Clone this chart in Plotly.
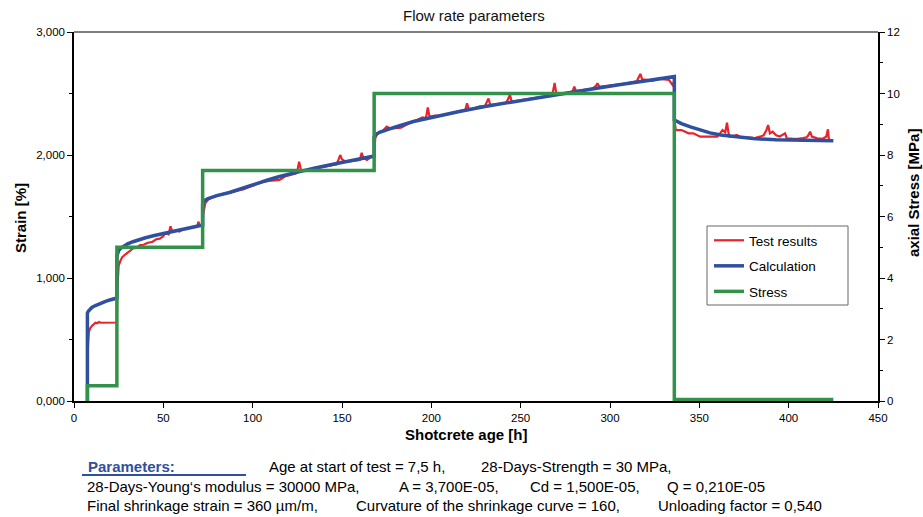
import plotly.graph_objects as go

# ---------------- data ----------------
stress_t = [7.5, 7.5, 24, 24, 72, 72, 168, 168, 336, 336, 425]
stress_v = [0, 0.5, 0.5, 5, 5, 7.5, 7.5, 10, 10, 0.05, 0.05]

calc_t = [7.5, 7.5, 8, 9, 10, 12, 14, 16, 18, 20, 22, 24,
          24, 24.5, 25, 26, 28, 30, 33, 36, 40, 45, 50, 55, 60, 66, 72,
          72, 72.5, 73, 75, 80, 87, 95, 100, 108, 115, 125, 135, 145, 155, 162, 168,
          168, 169, 171, 175, 180, 190, 200, 215, 230, 245, 260, 275, 290, 305, 320, 336,
          336, 340, 345, 350, 356, 362, 370, 380, 393, 410, 425]
calc_v = [0, 715, 730, 748, 760, 776, 790, 802, 812, 821, 829, 837,
          1180, 1205, 1222, 1240, 1262, 1278, 1295, 1310, 1327, 1345, 1362, 1378, 1394, 1412, 1431,
          1600, 1620, 1630, 1645, 1670, 1695, 1735, 1760, 1795, 1825, 1862, 1895, 1925, 1955, 1975, 1992,
          2150, 2168, 2185, 2205, 2228, 2272, 2305, 2352, 2395, 2432, 2467, 2502, 2537, 2571, 2604, 2637,
          2285, 2255, 2228, 2205, 2180, 2163, 2147, 2134, 2123, 2118, 2116]

test_t = [7.5, 7.6, 7.8, 8.3, 9, 10, 11, 12, 13, 14, 15, 24,
          24.2, 24.5, 25, 26, 27, 29, 31, 33, 35, 37, 39, 41, 44, 46, 48, 50, 51, 53, 54, 55,
          57, 59, 61, 63, 65, 67, 69, 69.6, 70.3, 71, 72,
          72.3, 72.8, 73.5, 75, 77, 80, 83, 86, 89, 92, 95, 98, 100, 103, 106, 109, 112,
          115, 118, 121, 124, 125, 126, 127, 129, 132, 135, 138, 141, 144, 147, 148, 149,
          150, 152, 155, 158, 160, 161, 162, 164, 166, 168,
          168.3, 168.6, 169.5, 171, 173, 175, 177, 180, 183, 186, 189, 192, 195, 197, 198,
          199, 202, 205, 208, 211, 214, 217, 219, 220, 221, 224, 227, 230, 232, 233, 236,
          239, 242, 244, 245, 248, 251, 254, 257, 260, 263, 266, 268, 269, 270, 273, 276,
          279, 280, 281, 284, 287, 290, 292, 293, 294, 297, 300, 303, 306, 309, 312, 315,
          316, 317, 318, 321, 324, 327, 330, 333, 335, 336,
          336.3, 336.8, 340, 342, 344, 346.6, 348.6, 350.5, 354, 357, 360, 361.6, 363,
          364.5, 365.5, 366.3, 367, 369, 371, 373, 375, 378, 381, 384, 386, 387.5, 388.5,
          389.5, 391, 393, 395, 398, 399, 402, 405, 408, 410, 411, 412, 413, 416, 419,
          421, 422, 422.5]
test_v = [0, 270, 440, 560, 590, 610, 625, 637, 632, 642, 636, 638,
          900, 1050, 1100, 1140, 1170, 1195, 1215, 1240, 1245, 1268, 1270, 1285, 1295, 1315, 1320, 1340, 1365, 1355, 1420, 1380,
          1388, 1378, 1395, 1400, 1405, 1412, 1418, 1458, 1430, 1425, 1432,
          1520, 1570, 1610, 1635, 1655, 1672, 1680, 1690, 1700, 1712, 1722, 1740, 1752, 1770, 1782, 1790, 1792,
          1797, 1825, 1840, 1850, 1870, 1946, 1880, 1870, 1880, 1893, 1900, 1908, 1915, 1925, 1960, 2000,
          1965, 1945, 1950, 1955, 1960, 2018, 1975, 1960, 1980, 1990,
          2100, 2135, 2165, 2185, 2200, 2230, 2215, 2220, 2222, 2245, 2270, 2285, 2305, 2300, 2387,
          2310, 2320, 2318, 2328, 2340, 2352, 2360, 2368, 2420, 2372, 2380, 2395, 2398, 2460, 2405, 2412,
          2420, 2425, 2490, 2432, 2440, 2448, 2455, 2462, 2470, 2475, 2480, 2510, 2585, 2495, 2500, 2505,
          2515, 2555, 2520, 2525, 2530, 2540, 2560, 2583, 2555, 2560, 2560, 2570, 2575, 2580, 2590, 2600,
          2630, 2659, 2615, 2610, 2605, 2620, 2615, 2610, 2569, 2600,
          2257, 2203, 2203, 2190, 2176, 2176, 2163, 2149, 2150, 2148, 2149, 2176, 2203,
          2185, 2263, 2180, 2149, 2155, 2163, 2145, 2140, 2142, 2138, 2149, 2160, 2200, 2244,
          2176, 2190, 2160, 2150, 2176, 2135, 2133, 2132, 2138, 2143, 2160, 2190, 2149, 2135, 2132,
          2149, 2209, 2130]

x_ticks = [0, 50, 100, 150, 200, 250, 300, 350, 400, 450]
y_ticks = [0, 1000, 2000, 3000]
y_ticktext = ["0,000", "1,000", "2,000", "3,000"]
y2_ticks = [0, 2, 4, 6, 8, 10, 12]

# ---------------- layout helpers ----------------
W, H = 923, 517
L, R, T, B = 74, 878, 32, 401


def px(x):
    return (x - L) / (R - L)


def py(y):
    return (B - y) / (B - T)


FONT = "Liberation Sans, Arial, sans-serif"
RED = "#e8232a"
BLUE = "#2f4f9f"
GREEN = "#33924a"

fig = go.Figure()
fig.add_trace(go.Scatter(x=test_t, y=test_v, mode="lines", name="Test results",
                         line=dict(color=RED, width=2.2), legendgroup="a"))
fig.add_trace(go.Scatter(x=calc_t, y=calc_v, mode="lines", name="Calculation",
                         line=dict(color=BLUE, width=3.5), legendgroup="b"))
fig.add_trace(go.Scatter(x=stress_t, y=stress_v, mode="lines", name="Stress",
                         line=dict(color=GREEN, width=3.5), yaxis="y2", legendgroup="c"))

axis_common = dict(showline=True, linecolor="black", linewidth=1.5, showgrid=False,
                   zeroline=False, ticks="outside", ticklen=5, tickcolor="black",
                   tickfont=dict(family=FONT, size=11.5, color="black"))

fig.update_layout(
    width=W, height=H,
    margin=dict(l=L, r=W - R, t=T, b=H - B, pad=0),
    paper_bgcolor="white", plot_bgcolor="white",
    font=dict(family=FONT, color="black"),
    xaxis=dict(range=[0, 450], tickvals=x_ticks, **axis_common),
    yaxis=dict(range=[0, 3000], tickvals=y_ticks, ticktext=y_ticktext,
               minor=dict(ticks="outside", ticklen=3, dtick=500, tickcolor="black"),
               **axis_common),
    yaxis2=dict(range=[0, 12], tickvals=y2_ticks, overlaying="y", side="right",
                minor=dict(ticks="outside", ticklen=3, dtick=1, tickcolor="black"),
                **axis_common),
    showlegend=True,
    legend=dict(x=px(709), y=py(225), xanchor="left", yanchor="top",
                bgcolor="rgba(0,0,0,0)", borderwidth=0, traceorder="grouped",
                tracegroupgap=5, font=dict(family=FONT, size=13.5, color="black")),
)

shapes = [
    # top frame line
    dict(type="line", xref="paper", yref="paper", x0=0, x1=1, y0=1, y1=1,
         line=dict(color="#555555", width=1.5)),
    # legend box
    dict(type="rect", xref="paper", yref="paper", x0=px(707), x1=px(848),
         y0=py(305), y1=py(226), line=dict(color="#666666", width=1),
         fillcolor="white", layer="above"),
    # underline of "Parameters:"
    dict(type="line", xref="paper", yref="paper", x0=px(82), x1=px(246),
         y0=py(475), y1=py(475), line=dict(color=BLUE, width=2)),
]
fig.update_layout(shapes=shapes)


def ann(text, x, y, size, anchor="left", angle=0, color="black", bold=False):
    if bold:
        text = "<b>" + text + "</b>"
    return dict(text=text, x=px(x), y=py(y), xref="paper", yref="paper",
                xanchor=anchor, yanchor="middle", showarrow=False, textangle=angle,
                font=dict(family=FONT, size=size, color=color))


BT = 15
annotations = [
    ann("Flow rate parameters", 474, 16, 15, anchor="center", color="#111111"),
    ann("Strain [%]", 20, 218, 15, anchor="center", angle=-90, bold=True),
    ann("axial Stress [MPa]", 913, 193, 15, anchor="center", angle=-90, bold=True),
    ann("Shotcrete age [h]", 466, 434, 15, anchor="center", bold=True),
    ann("Parameters:", 86, 466, BT, color=BLUE, bold=True),
    ann("Age at start of test = 7,5 h,", 267, 466, BT),
    ann("28-Days-Strength = 30 MPa,", 479, 466, BT),
    ann("28-Days-Young\u2018s modulus = 30000 MPa,", 85, 486, BT),
    ann("A = 3,700E-05,", 397, 486, BT),
    ann("Cd = 1,500E-05,", 528, 486, BT),
    ann("Q = 0,210E-05", 665, 486, BT),
    ann("Final shrinkage strain = 360 \u00b5m/m,", 85, 505, BT),
    ann("Curvature of the shrinkage curve = 160,", 354, 505, BT),
    ann("Unloading factor = 0,540", 656, 505, BT),
]
fig.update_layout(annotations=annotations)

fig.write_html("out.html")
